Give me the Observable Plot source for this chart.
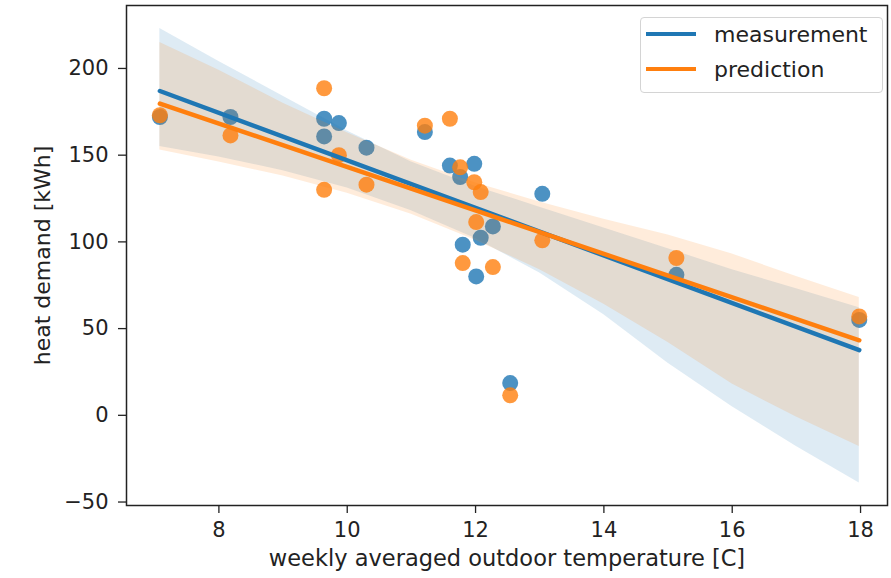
<!DOCTYPE html>
<html><head><meta charset="utf-8">
<script src="https://cdn.jsdelivr.net/npm/d3@7"></script>
<script src="https://cdn.jsdelivr.net/npm/@observablehq/plot@0.6"></script>
<style>
body{margin:0;background:#fff;}
#wrap{position:relative;width:891px;height:578px;}
.legend{position:absolute;left:640px;top:17px;width:243px;height:76px;box-sizing:border-box;border:1.5px solid #d4d4d4;border-radius:4px;background:rgba(255,255,255,0.8);font-family:"DejaVu Sans";font-size:22px;color:#222;}
.row{position:absolute;left:0;height:30px;display:flex;align-items:center;white-space:nowrap;}
.sw{display:inline-block;width:50px;height:4.5px;margin-left:5px;margin-right:18px;}
</style></head>
<body><div id="wrap"></div>
<script>
const seriesNames = ["measurement", "prediction"];
const seriesColors = ["#1f77b4", "#ff7f0e"];
const temperature = [7.08, 8.18, 9.64, 9.64, 9.87, 10.30, 11.21, 11.60, 11.76, 11.80, 11.98, 12.01, 12.08, 12.27, 12.54, 13.04, 15.13, 17.98];
const measurement = [172, 172, 171, 160.8, 168.5, 154.3, 163.3, 144, 137.4, 98.4, 145, 80.1, 102.4, 108.9, 18.6, 127.7, 81, 55];
const prediction  = [173, 161.4, 188.6, 130, 150, 133, 167, 171, 143, 87.8, 134.4, 111.4, 128.7, 85.5, 11.5, 100.9, 90.7, 57];

// confidence bands
const bandTemp = [7.08, 8, 9, 10, 11, 12, 13, 14, 15, 16, 17, 17.98];
const measLow  = [155, 149, 141, 131, 118, 102, 82, 58, 30, 5, -18, -39];
const measHigh = [223, 204, 184, 164, 146, 132, 120, 108, 96, 84, 73, 62];
const predLow  = [153, 146, 138, 128, 116, 101, 84, 64, 42, 18, -1, -18];
const predHigh = [215, 199, 180, 163, 147, 134, 123, 113, 104, 93, 80, 68];

const xTicks = [8, 10, 12, 14, 16, 18];
const yTicks = [-50, 0, 50, 100, 150, 200];
const xLabel = "weekly averaged outdoor temperature [C]";
const yLabel = "heat demand [kWh]";

const meas = temperature.map((t, i) => ({t, v: measurement[i]}));
const pred = temperature.map((t, i) => ({t, v: prediction[i]}));
const measBand = bandTemp.map((t, i) => ({t, lo: measLow[i], hi: measHigh[i]}));
const predBand = bandTemp.map((t, i) => ({t, lo: predLow[i], hi: predHigh[i]}));

const chart = Plot.plot({
  width: 891,
  height: 578,
  marginLeft: 126,
  marginRight: 4,
  marginTop: 5,
  marginBottom: 73,
  style: {fontFamily: "DejaVu Sans", fontSize: "21px", color: "#222", background: "#fff"},
  x: {domain: [6.56, 18.42]},
  y: {domain: [-52, 236.3]},
  marks: [
    Plot.dot(meas, {x: "t", y: "v", r: 8, fill: seriesColors[0], fillOpacity: 0.8}),
    Plot.areaY(measBand, {x: "t", y1: "lo", y2: "hi", fill: seriesColors[0], fillOpacity: 0.15}),
    Plot.dot(pred, {x: "t", y: "v", r: 8, fill: seriesColors[1], fillOpacity: 0.8}),
    Plot.areaY(predBand, {x: "t", y1: "lo", y2: "hi", fill: seriesColors[1], fillOpacity: 0.15}),
    Plot.linearRegressionY(meas, {x: "t", y: "v", stroke: seriesColors[0], strokeWidth: 4.5, ci: 0}),
    Plot.linearRegressionY(pred, {x: "t", y: "v", stroke: seriesColors[1], strokeWidth: 4.5, ci: 0}),
    Plot.frame({stroke: "#222", strokeWidth: 1.5}),
    Plot.axisX({ticks: xTicks, tickSize: 8, tickPadding: 9, label: null, strokeWidth: 1.3}),
    Plot.axisY({ticks: yTicks, tickSize: 8, tickPadding: 10, label: null, strokeWidth: 1.3}),
    Plot.text([xLabel], {frameAnchor: "bottom", lineAnchor: "middle", textAnchor: "middle", dy: 53, text: d => d, fontSize: 22.5, fill: "#222"}),
    Plot.text([yLabel], {frameAnchor: "left", lineAnchor: "middle", textAnchor: "middle", dx: -84, rotate: -90, text: d => d, fontSize: 22, fill: "#222"})
  ]
});
const wrap = document.getElementById("wrap");
wrap.appendChild(chart);

const legend = document.createElement("div");
legend.className = "legend";
seriesNames.forEach((name, i) => {
  const row = document.createElement("div");
  row.className = "row";
  row.style.top = (i === 0 ? 1 : 36) + "px";
  const sw = document.createElement("span");
  sw.className = "sw";
  sw.style.background = seriesColors[i];
  const tx = document.createElement("span");
  tx.textContent = name;
  row.appendChild(sw);
  row.appendChild(tx);
  legend.appendChild(row);
});
wrap.appendChild(legend);
</script>
</body></html>
